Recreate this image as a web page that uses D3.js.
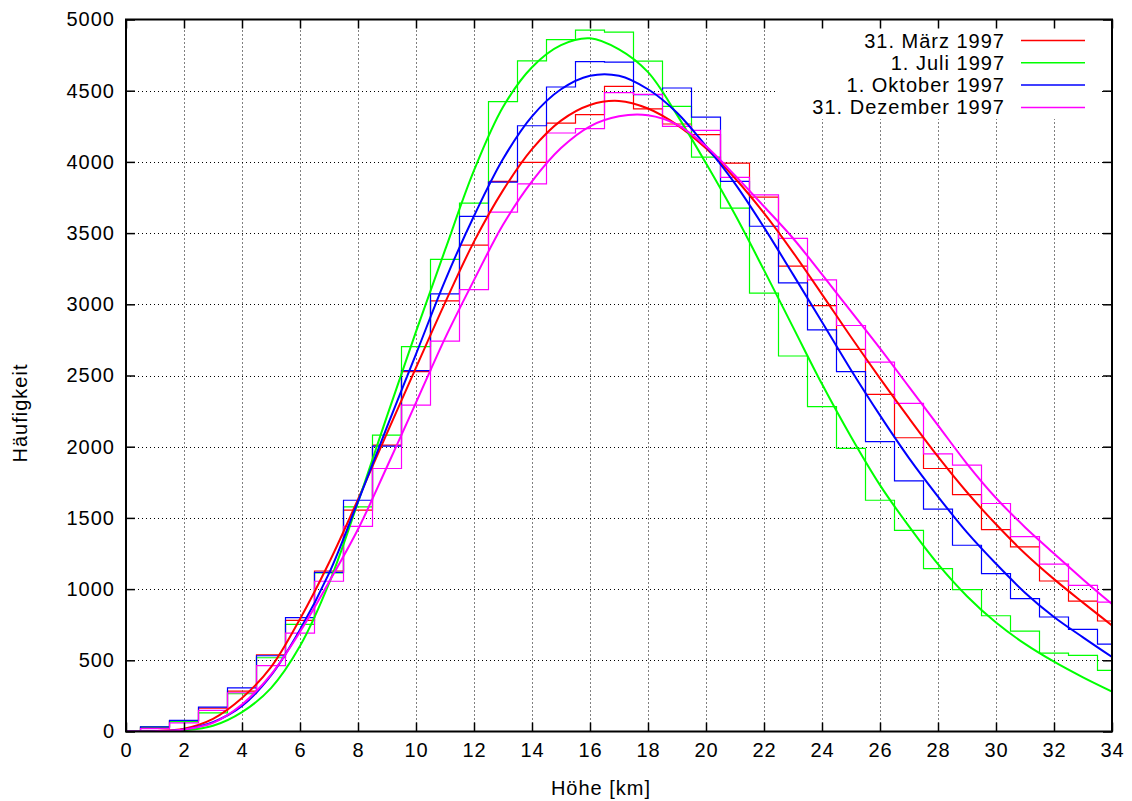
<!DOCTYPE html>
<html>
<head>
<meta charset="utf-8">
<script src="https://cdn.jsdelivr.net/npm/d3@7"></script>
<style>
  html, body { margin: 0; padding: 0; background: #fff; }
  svg text { font-family: "Liberation Sans", Arial, sans-serif; font-size: 20px; letter-spacing: 1px; fill: #000; }
</style>
</head>
<body>
<svg id="chart" width="1132" height="801"></svg>
<script>
// Histogram bins: centres at 1 … 34 km, width 1 km
const binKm = [1, 2, 3, 4, 5, 6, 7, 8, 9, 10, 11, 12, 13, 14, 15, 16, 17, 18, 19, 20,
               21, 22, 23, 24, 25, 26, 27, 28, 29, 30, 31, 32, 33, 34];

const histMaerz = [30, 77, 164, 284, 539, 781, 1127, 1554, 2011, 2527, 3024, 3415, 3863, 3996, 4273,
                   4332, 4531, 4372, 4266, 4191, 3992, 3753, 3268, 2991, 2684, 2368, 2063, 1847, 1664, 1418,
                   1296, 1057, 916, 776];
const histJuli = [32, 70, 131, 265, 518, 752, 1113, 1577, 2081, 2703, 3315, 3711, 4423, 4709, 4859,
                  4925, 4912, 4707, 4390, 4034, 3675, 3078, 2637, 2281, 1988, 1624, 1413, 1144, 996, 813,
                  705, 551, 534, 429];
const histOktober = [33, 78, 171, 307, 532, 800, 1118, 1624, 2004, 2534, 3073, 3617, 3858, 4254, 4526,
                     4704, 4700, 4472, 4519, 4314, 3863, 3548, 3150, 2820, 2527, 2035, 1760, 1561, 1308, 1109,
                     933, 804, 717, 614];
const histDezember = [20, 60, 148, 272, 462, 691, 1055, 1441, 1847, 2292, 2742, 3103, 3647, 3846, 4203,
                      4233, 4486, 4474, 4250, 4221, 3891, 3769, 3463, 3171, 2851, 2594, 2304, 1950, 1871, 1601,
                      1369, 1176, 1026, 909];

// Fitted distributions, sampled at every km
const fitKm = [0, 1, 2, 3, 4, 5, 6, 7, 8, 9, 10, 11, 12, 13, 14, 15, 16, 17, 18, 19, 20,
               21, 22, 23, 24, 25, 26, 27, 28, 29, 30, 31, 32, 33, 34];
const fitMaerz = [0, 3, 20, 89, 235, 452, 790, 1185, 1630, 2096, 2555, 3010, 3440, 3800, 4090,
                  4290, 4400, 4428, 4375, 4260, 4095, 3885, 3640, 3365, 3070, 2770, 2480, 2200, 1930, 1680,
                  1455, 1250, 1070, 905, 745];
const fitJuli = [0, 1, 8, 40, 136, 305, 600, 1040, 1610, 2215, 2808, 3380, 3940, 4385, 4665,
                 4820, 4868, 4790, 4630, 4330, 3990, 3630, 3240, 2840, 2440, 2070, 1730, 1440, 1175, 950,
                 765, 615, 490, 380, 280];
const fitOktober = [0, 2, 15, 66, 180, 394, 715, 1110, 1615, 2140, 2650, 3165, 3620, 4020, 4320,
                    4510, 4605, 4605, 4510, 4345, 4110, 3847, 3540, 3210, 2876, 2539, 2220, 1920, 1650, 1398,
                    1178, 975, 804, 661, 523];
const fitDezember = [0, 2, 14, 61, 190, 400, 700, 1050, 1420, 1859, 2309, 2761, 3170, 3558, 3863,
                     4097, 4250, 4320, 4327, 4261, 4110, 3905, 3687, 3464, 3210, 2950, 2690, 2420, 2150, 1880,
                     1640, 1435, 1250, 1068, 895];

const seriesNames = ["31. März 1997", "1. Juli 1997", "1. Oktober 1997", "31. Dezember 1997"];
const seriesColors = ["#ff0000", "#00ff00", "#0000ff", "#ff00ff"];

const xTicks = [0, 2, 4, 6, 8, 10, 12, 14, 16, 18, 20, 22, 24, 26, 28, 30, 32, 34];
const yTicks = [0, 500, 1000, 1500, 2000, 2500, 3000, 3500, 4000, 4500, 5000];

const xTitle = "Höhe [km]";
const yTitle = "Häufigkeit";

const series = [
  { name: seriesNames[0], color: seriesColors[0], hist: histMaerz, fit: fitMaerz },
  { name: seriesNames[1], color: seriesColors[1], hist: histJuli, fit: fitJuli },
  { name: seriesNames[2], color: seriesColors[2], hist: histOktober, fit: fitOktober },
  { name: seriesNames[3], color: seriesColors[3], hist: histDezember, fit: fitDezember }
];

const svg = d3.select("#chart");
svg.append("rect").attr("width", 1132).attr("height", 801).attr("fill", "#fff");

const plotLeft = 126, plotRight = 1112, plotTop = 19.5, plotBottom = 731.5;
const x = d3.scaleLinear().domain([0, 34]).range([plotLeft, plotRight]);
const y = d3.scaleLinear().domain([0, 5000]).range([plotBottom, plotTop]);

svg.append("defs").append("clipPath").attr("id", "plotClip")
  .append("rect").attr("x", plotLeft).attr("y", plotTop)
  .attr("width", plotRight - plotLeft).attr("height", plotBottom - plotTop);

// Dotted grid
const grid = svg.append("g").attr("stroke", "#000").attr("stroke-width", 1).attr("stroke-dasharray", "1,3");
grid.selectAll("line.gx").data(xTicks.slice(1, -1)).join("line").attr("class", "gx")
  .attr("x1", d => Math.round(x(d)) + 0.5).attr("x2", d => Math.round(x(d)) + 0.5)
  .attr("y1", plotBottom).attr("y2", plotTop);
grid.selectAll("line.gy").data(yTicks.slice(1, -1)).join("line").attr("class", "gy")
  .attr("x1", plotLeft).attr("x2", plotRight)
  .attr("y1", d => Math.round(y(d)) + 0.5).attr("y2", d => Math.round(y(d)) + 0.5);

const plot = svg.append("g").attr("clip-path", "url(#plotClip)");

// Histogram steps
const stepLine = d3.line().x(d => x(d[0])).y(d => y(d[1])).curve(d3.curveStepAfter);
series.forEach(s => {
  const pts = [[binKm[0] - 0.5, 0]];
  binKm.forEach((k, i) => pts.push([k - 0.5, s.hist[i]]));
  pts.push([binKm[binKm.length - 1] + 0.5, s.hist[s.hist.length - 1]]);
  plot.append("path").attr("d", stepLine(pts))
    .attr("fill", "none").attr("stroke", s.color).attr("stroke-width", 1.2);
});

// Fitted curves
const fitLine = d3.line().x(d => x(d[0])).y(d => y(d[1])).curve(d3.curveCatmullRom.alpha(0.5));
series.forEach(s => {
  const pts = fitKm.map((k, i) => [k, s.fit[i]]);
  plot.append("path").attr("d", fitLine(pts))
    .attr("fill", "none").attr("stroke", s.color).attr("stroke-width", 2);
});

// Key with opaque background
const key = svg.append("g");
key.append("rect").attr("x", 778).attr("y", 27).attr("width", 322).attr("height", 92).attr("fill", "#fff");
series.forEach((s, i) => {
  const ky = 40.5 + i * 22.3;
  key.append("text").attr("x", 1005).attr("y", ky).attr("dy", "0.35em")
    .attr("text-anchor", "end").text(s.name);
  key.append("line").attr("x1", 1021).attr("x2", 1085).attr("y1", ky).attr("y2", ky)
    .attr("stroke", s.color).attr("stroke-width", 1.5);
});

// Axes with inward ticks on all four sides
function styleAxis(g) {
  g.attr("font-family", null).attr("font-size", null);
  g.select(".domain").remove();
  g.selectAll(".tick line").attr("stroke", "#000").attr("stroke-width", 1.5);
  g.selectAll(".tick text").attr("fill", "#000");
}
svg.append("g").attr("transform", `translate(0,${plotBottom})`)
  .call(d3.axisBottom(x).tickValues(xTicks).tickSize(-9).tickPadding(11).tickFormat(d3.format("d")))
  .call(styleAxis);
svg.append("g").attr("transform", `translate(0,${plotTop})`)
  .call(d3.axisTop(x).tickValues(xTicks).tickSize(-9).tickFormat(() => ""))
  .call(styleAxis);
svg.append("g").attr("transform", `translate(${plotLeft},0)`)
  .call(d3.axisLeft(y).tickValues(yTicks).tickSize(-9).tickPadding(11).tickFormat(d3.format("d")))
  .call(styleAxis);
svg.append("g").attr("transform", `translate(${plotRight},0)`)
  .call(d3.axisRight(y).tickValues(yTicks).tickSize(-9).tickFormat(() => ""))
  .call(styleAxis);

// Frame
svg.append("rect").attr("x", plotLeft).attr("y", plotTop)
  .attr("width", plotRight - plotLeft).attr("height", plotBottom - plotTop)
  .attr("fill", "none").attr("stroke", "#000").attr("stroke-width", 2);

// Axis titles
svg.append("text").attr("x", 601).attr("y", 795).attr("text-anchor", "middle").text(xTitle);
svg.append("text").attr("transform", "translate(27,413) rotate(-90)").attr("text-anchor", "middle").text(yTitle);
</script>
</body>
</html>
